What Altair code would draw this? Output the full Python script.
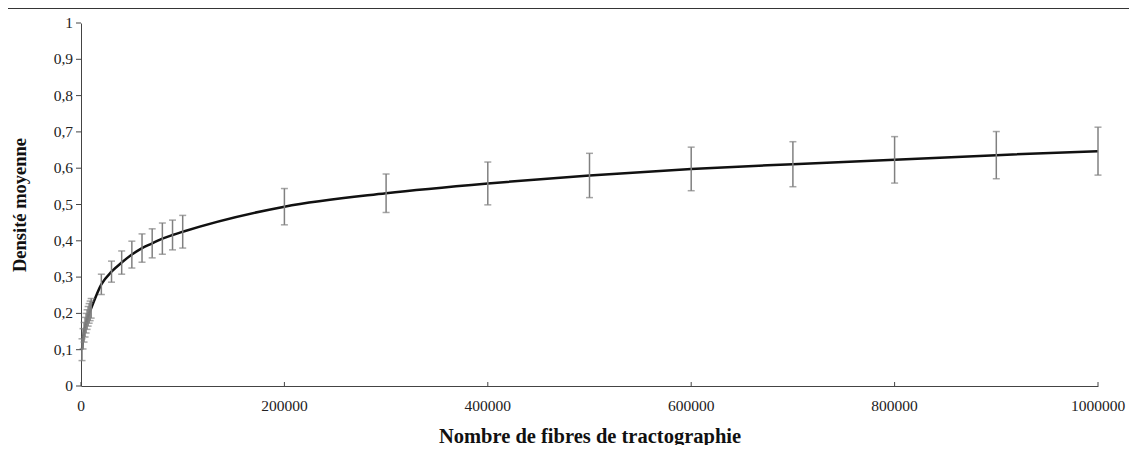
import altair as alt
import pandas as pd

fibres = [1000, 2000, 3000, 4000, 5000, 6000, 7000, 8000, 9000, 10000,
          20000, 30000, 40000, 50000, 60000, 70000, 80000, 90000, 100000,
          200000, 300000, 400000, 500000, 600000, 700000, 800000, 900000, 1000000]
densite = [0.100, 0.130, 0.148, 0.162, 0.173, 0.183, 0.192, 0.200, 0.207, 0.214,
           0.280, 0.315, 0.340, 0.362, 0.380, 0.393, 0.406, 0.416, 0.425,
           0.494, 0.531, 0.558, 0.580, 0.598, 0.611, 0.623, 0.636, 0.647]
ecart = [0.030, 0.028, 0.027, 0.027, 0.027, 0.027, 0.027, 0.027, 0.027, 0.027,
         0.028, 0.029, 0.032, 0.037, 0.039, 0.040, 0.043, 0.041, 0.045,
         0.050, 0.053, 0.059, 0.061, 0.060, 0.062, 0.064, 0.065, 0.066]
x_ticks = [0, 200000, 400000, 600000, 800000, 1000000]
x_labels = ["0", "200000", "400000", "600000", "800000", "1000000"]
y_ticks = [0, 0.1, 0.2, 0.3, 0.4, 0.5, 0.6, 0.7, 0.8, 0.9, 1]
y_labels = ["0", "0,1", "0,2", "0,3", "0,4", "0,5", "0,6", "0,7", "0,8", "0,9", "1"]

df = pd.DataFrame({"x": fibres, "y": densite, "sd": ecart})
df["lo"] = df["y"] - df["sd"]
df["hi"] = df["y"] + df["sd"]
xt_df = pd.DataFrame({"t": x_ticks, "lab": x_labels})
yt_df = pd.DataFrame({"t": y_ticks, "lab": y_labels})

FONT = "Liberation Serif"
W, H = 1017, 363

xscale = alt.Scale(domain=[0, 1000000], nice=False)
yscale = alt.Scale(domain=[0, 1], nice=False)

x_axis = alt.Axis(title="Nombre de fibres de tractographie", grid=False,
                  ticks=False, labels=False, titlePadding=40,
                  titleFont=FONT, titleFontSize=20.5, titleFontWeight="bold",
                  titleColor="#111111", domainColor="#444444")
y_axis = alt.Axis(title="Densité moyenne", grid=False,
                  ticks=False, labels=False, titlePadding=52,
                  titleFont=FONT, titleFontSize=18.5, titleFontWeight="bold",
                  titleColor="#111111", domainColor="#444444")

line = alt.Chart(df).mark_line(color="#111111", strokeWidth=2.5,
                               interpolate="monotone").encode(
    x=alt.X("x:Q", scale=xscale, axis=x_axis),
    y=alt.Y("y:Q", scale=yscale, axis=y_axis))

bars = alt.Chart(df).mark_rule(color="#808080", strokeWidth=1.5).encode(
    x=alt.X("x:Q"), y=alt.Y("lo:Q"), y2="hi:Q")
caps_hi = alt.Chart(df).mark_tick(color="#808080", thickness=1.5, size=7,
                                  orient="horizontal").encode(
    x=alt.X("x:Q"), y=alt.Y("hi:Q"))
caps_lo = alt.Chart(df).mark_tick(color="#808080", thickness=1.5, size=7,
                                  orient="horizontal").encode(
    x=alt.X("x:Q"), y=alt.Y("lo:Q"))

xtick_marks = alt.Chart(xt_df).mark_rule(color="#444444", strokeWidth=1).encode(
    x=alt.X("t:Q"), y=alt.value(H), y2=alt.value(H - 4))
xtick_text = alt.Chart(xt_df).mark_text(font=FONT, fontSize=15.5, color="#222222",
                                        align="center", baseline="middle").encode(
    x=alt.X("t:Q"), y=alt.value(H + 20), text="lab:N")

ytick_marks = alt.Chart(yt_df).mark_rule(color="#444444", strokeWidth=1).encode(
    y=alt.Y("t:Q"), x=alt.value(-5), x2=alt.value(0))
ytick_text = alt.Chart(yt_df).mark_text(font=FONT, fontSize=15.5, color="#222222",
                                        align="right", baseline="middle").encode(
    y=alt.Y("t:Q"), x=alt.value(-8), text="lab:N")

frame_top = alt.Chart(xt_df).mark_rule(color="#333333", strokeWidth=1.2).encode(
    x=alt.value(-74), x2=alt.value(1060), y=alt.value(-15))
frame_left = alt.Chart(xt_df).mark_rule(color="#333333", strokeWidth=1.2).encode(
    x=alt.value(-74), y=alt.value(-15), y2=alt.value(440))

chart = alt.layer(line, bars, caps_hi, caps_lo, xtick_marks, xtick_text,
                  ytick_marks, ytick_text, frame_top, frame_left).properties(
    width=W, height=H,
    autosize=alt.AutoSizeParams(type="none"),
    padding={"left": 73, "top": 15, "right": 31, "bottom": 59},
).configure_view(stroke=None)

chart.save("out.html", embed_options={"renderer": "svg", "actions": False})
